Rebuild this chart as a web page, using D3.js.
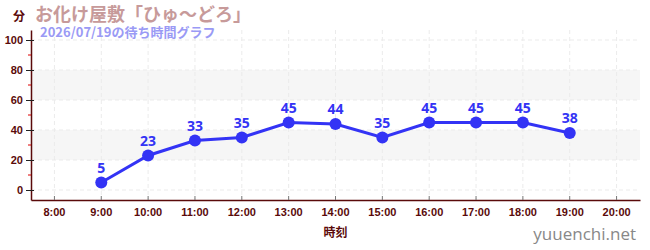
<!DOCTYPE html>
<html>
<head>
<meta charset="utf-8">
<script src="https://cdn.jsdelivr.net/npm/d3@7"></script>
<style>
  body { margin: 0; background: #fff; }
  svg { font-family: "Noto Sans CJK JP", "Noto Sans", sans-serif; }
</style>
</head>
<body>
<div id="chart"></div>
<script>
// Data.
const hours = ['8:00', '9:00', '10:00', '11:00', '12:00', '13:00', '14:00',
               '15:00', '16:00', '17:00', '18:00', '19:00', '20:00'];
const waitHours = ['9:00', '10:00', '11:00', '12:00', '13:00', '14:00',
                   '15:00', '16:00', '17:00', '18:00', '19:00'];
const waitMinutes = [5, 23, 33, 35, 45, 44, 35, 45, 45, 45, 38];
const yTicks = [0, 20, 40, 60, 80, 100];
const yMinorTicks = [10, 30, 50, 70, 90];
const bands = [[20, 40], [60, 80]];

const title = 'お化け屋敷「ひゅ〜どろ」';
const subtitle = '2026/07/19の待ち時間グラフ';

// Margin convention.
const margin = { top: 30, right: 10, bottom: 50, left: 31 };
const chartWidth = 650, chartHeight = 250;
const width = chartWidth - margin.left - margin.right;
const height = chartHeight - margin.top - margin.bottom;

const axisColor = '#5a0a0a';
const lineColor = '#3333f5';

// Scales.
const xScale = d3.scaleBand().domain(hours).range([0, width]);
const xPos = h => xScale(h) + xScale.bandwidth() / 2;
const yScale = d3.scaleLinear().domain([-20 / 3, 320 / 3]).range([height, 0]);

const svg = d3.select('#chart')
              .append('svg')
              .attr('width', chartWidth)
              .attr('height', chartHeight);

const g = svg.append('g')
             .attr('transform', `translate(${margin.left}, ${margin.top})`);

// Background bands.
g.selectAll('.band')
  .data(bands)
  .join('rect')
  .attr('class', 'band')
  .attr('x', 0)
  .attr('width', width)
  .attr('y', d => yScale(d[1]))
  .attr('height', d => yScale(d[0]) - yScale(d[1]))
  .style('fill', '#f6f6f6');

// Grid lines.
g.selectAll('.hgrid')
  .data(yTicks)
  .join('line')
  .attr('class', 'hgrid')
  .attr('x1', 0)
  .attr('x2', width)
  .attr('y1', d => yScale(d))
  .attr('y2', d => yScale(d))
  .style('stroke', '#ebebeb')
  .style('stroke-dasharray', '4,3');

g.selectAll('.vgrid')
  .data(hours)
  .join('line')
  .attr('class', 'vgrid')
  .attr('x1', d => xPos(d))
  .attr('x2', d => xPos(d))
  .attr('y1', 0)
  .attr('y2', height)
  .style('stroke', '#ebebeb')
  .style('stroke-dasharray', '4,3');

// X axis.
const xAxis = d3.axisBottom(xScale).tickSizeInner(-4).tickSizeOuter(0).tickPadding(8);
const xAxisDraw = g.append('g')
                   .attr('transform', `translate(0, ${height})`)
                   .call(xAxis);
xAxisDraw.select('.domain').style('stroke', axisColor).style('stroke-width', 1.5);
xAxisDraw.selectAll('.tick line').style('stroke', '#777');
xAxisDraw.selectAll('text')
  .style('fill', axisColor)
  .style('font-size', '11px')
  .style('font-weight', 'bold')
  .style('font-family', '"Liberation Sans", sans-serif');

// Y axis.
const yAxis = d3.axisLeft(yScale).tickValues(yTicks).tickSizeInner(5).tickSizeOuter(0).tickPadding(3);
const yAxisDraw = g.append('g').call(yAxis);
yAxisDraw.select('.domain').style('stroke', axisColor).style('stroke-width', 1.5);
yAxisDraw.selectAll('.tick line').attr('x1', 3).style('stroke', '#222');
yAxisDraw.selectAll('text')
  .style('fill', axisColor)
  .style('font-size', '11px')
  .style('font-weight', 'bold')
  .style('font-family', '"Liberation Sans", sans-serif');

g.selectAll('.minor')
  .data(yMinorTicks)
  .join('line')
  .attr('class', 'minor')
  .attr('x1', -3)
  .attr('x2', 0)
  .attr('y1', d => yScale(d))
  .attr('y2', d => yScale(d))
  .style('stroke', '#d00');

// Line and points.
const points = waitHours.map((h, i) => ({ hour: h, value: waitMinutes[i] }));

const line = d3.line()
               .x(d => xPos(d.hour))
               .y(d => yScale(d.value));

g.append('path')
  .datum(points)
  .attr('d', line)
  .style('fill', 'none')
  .style('stroke', lineColor)
  .style('stroke-width', 3);

g.selectAll('.dot')
  .data(points)
  .join('circle')
  .attr('class', 'dot')
  .attr('cx', d => xPos(d.hour))
  .attr('cy', d => yScale(d.value))
  .attr('r', 6)
  .style('fill', lineColor);

g.selectAll('.val')
  .data(points)
  .join('text')
  .attr('class', 'val')
  .attr('x', d => xPos(d.hour))
  .attr('y', d => yScale(d.value) - 10)
  .attr('text-anchor', 'middle')
  .style('fill', lineColor)
  .style('font-size', '14px')
  .style('font-weight', 'bold')
  .style('font-family', '"Noto Sans", sans-serif')
  .text(d => d.value);

// Header and labels.
svg.append('text')
  .attr('x', 13)
  .attr('y', 21)
  .style('fill', axisColor)
  .style('font-size', '12px')
  .style('font-weight', 'bold')
  .text('分');

svg.append('text')
  .attr('x', 35)
  .attr('y', 21)
  .style('fill', '#c79a9a')
  .style('font-size', '18px')
  .style('font-weight', 'bold')
  .text(title);

svg.append('text')
  .attr('x', 40)
  .attr('y', 37)
  .style('fill', '#9a9af5')
  .style('font-size', '13px')
  .style('font-weight', 'bold')
  .style('font-family', '"Noto Sans CJK JP", sans-serif')
  .text(subtitle);

svg.append('text')
  .attr('x', margin.left + width / 2)
  .attr('y', 237)
  .attr('text-anchor', 'middle')
  .style('fill', axisColor)
  .style('font-size', '12px')
  .style('font-weight', 'bold')
  .text('時刻');

svg.append('text')
  .attr('x', 636)
  .attr('y', 240)
  .attr('text-anchor', 'end')
  .style('fill', '#888')
  .style('font-size', '17px')
  .style('font-family', '"Open Sans", sans-serif')
  .text('yuuenchi.net');
</script>
</body>
</html>
